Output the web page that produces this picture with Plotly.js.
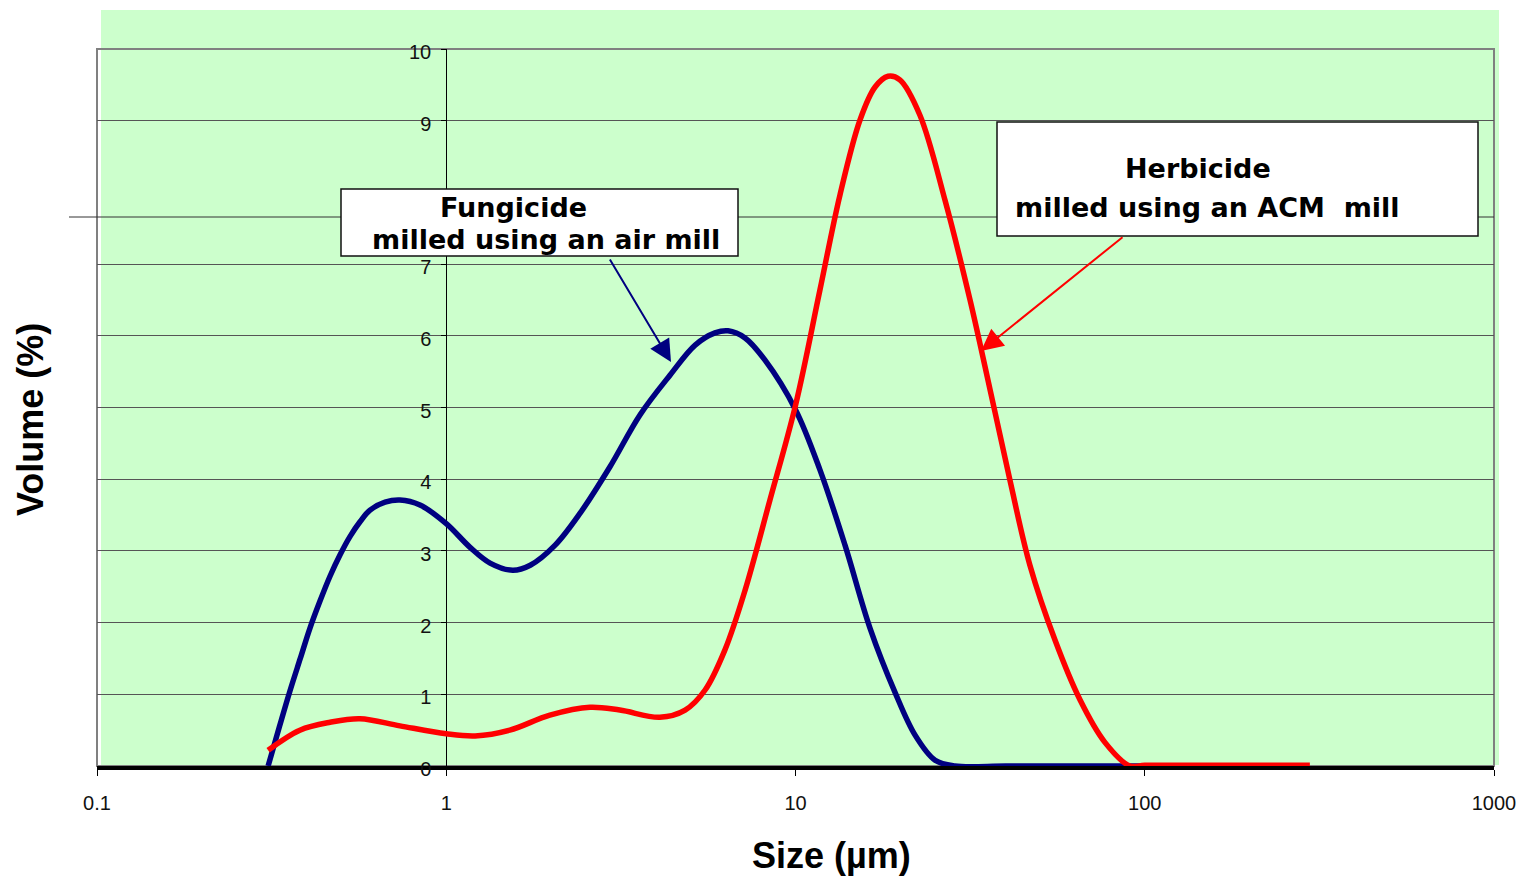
<!DOCTYPE html>
<html>
<head>
<meta charset="utf-8">
<script src="https://cdn.plot.ly/plotly-3.0.1.min.js"></script>
<style>html,body{margin:0;padding:0;background:#fff;}#chart{width:1526px;height:879px;}</style>
</head>
<body>
<div id="chart"></div>
<script>
// Particle size distributions (size in µm, volume in %)
const fungicideSize = [0.309, 0.333, 0.357, 0.382, 0.407, 0.435, 0.465, 0.497, 0.530, 0.567, 0.605, 0.668, 0.737, 0.841, 1.0, 1.17, 1.335, 1.55, 1.74, 2.05, 2.42, 2.94, 3.59, 4.37, 5.16, 5.88, 6.41, 7.17, 8.18, 10.0, 11.75, 13.86, 16.35, 19.3, 22.0, 25.1, 28.6, 40, 60, 100];
const fungicideVolume = [0, 0.55, 1.05, 1.50, 1.92, 2.30, 2.65, 2.95, 3.20, 3.41, 3.57, 3.68, 3.71, 3.64, 3.38, 3.05, 2.83, 2.73, 2.80, 3.08, 3.53, 4.17, 4.90, 5.45, 5.87, 6.04, 6.07, 5.97, 5.66, 4.97, 4.13, 3.08, 1.92, 1.02, 0.43, 0.08, 0.0, 0, 0, 0];

const herbicideSize = [0.309, 0.381, 0.465, 0.566, 0.737, 1.0, 1.21, 1.52, 1.98, 2.58, 3.14, 4.09, 4.83, 5.51, 6.28, 7.17, 8.45, 10.0, 11.75, 13.4, 15.3, 16.9, 18.4, 19.9, 22.7, 26.8, 31.6, 36.1, 41.1, 46.9, 55.3, 65.3, 76.9, 90.7, 100, 150, 297];
const herbicideVolume = [0.22, 0.50, 0.61, 0.66, 0.56, 0.45, 0.42, 0.50, 0.71, 0.82, 0.78, 0.68, 0.78, 1.06, 1.62, 2.45, 3.71, 5.03, 6.64, 7.96, 9.01, 9.47, 9.62, 9.57, 9.08, 7.89, 6.50, 5.24, 3.99, 2.80, 1.76, 0.92, 0.33, 0.0, 0.01, 0.01, 0.01];

const xTickVals = [0.1, 1, 10, 100, 1000];
const xTickText = ['0.1', '1', '10', '100', '1000'];
// the "8" tick sits behind the Fungicide label box in the original
const yTickVals = [0, 1, 2, 3, 4, 5, 6, 7, 9, 10];
const yTickText = ['0', '1', '2', '3', '4', '5', '6', '7', '9', '10'];

const xTitle = 'Size (µm)';
const yTitle = 'Volume (%)';
const fungLabel = ['Fungicide', 'milled using an air mill'];
const herbLabel = ['Herbicide', 'milled using an ACM  mill'];

const FONT = 'Liberation Sans, Arial, sans-serif';
const BOXFONT = 'DejaVu Sans, Liberation Sans, Arial, sans-serif';

const traces = [
  {x: fungicideSize, y: fungicideVolume, type: 'scatter', mode: 'lines',
   line: {color: '#000080', width: 5.5, shape: 'spline', smoothing: 1}, name: 'Fungicide', hoverinfo: 'skip'},
  {x: herbicideSize, y: herbicideVolume, type: 'scatter', mode: 'lines',
   line: {color: '#FF0000', width: 5.5, shape: 'spline', smoothing: 1}, name: 'Herbicide', hoverinfo: 'skip'}
];

// pixel helpers (plot area: x 97..1494, y 49..766)
const px = v => (v - 97) / 1397;
const py = v => (766 - v) / 717;

const layout = {
  width: 1526, height: 879,
  margin: {l: 97, r: 32, t: 49, b: 113, pad: 0},
  paper_bgcolor: '#ffffff',
  plot_bgcolor: 'rgba(0,0,0,0)',
  showlegend: false,
  font: {family: FONT, color: '#111', size: 20},
  xaxis: {
    type: 'log', range: [-1, 3],
    tickvals: xTickVals, ticktext: xTickText,
    ticks: 'outside', ticklen: 6, tickcolor: '#000', tickwidth: 1,
    showline: true, linecolor: '#000', linewidth: 4,
    showgrid: false, zeroline: false, layer: 'below traces',
    tickfont: {family: FONT, size: 20, color: '#111'},
    ticklabelstandoff: 10
  },
  yaxis: {
    range: [0, 10], anchor: 'free', position: 0.25,
    tickvals: yTickVals, ticktext: yTickText,
    ticks: 'outside', ticklen: 5, tickcolor: '#000', tickwidth: 1,
    showline: true, linecolor: '#000', linewidth: 1,
    showgrid: true, gridcolor: '#555', gridwidth: 1,
    zeroline: false, layer: 'below traces',
    tickfont: {family: FONT, size: 20, color: '#111'},
    ticklabelstandoff: 6,
    ticklabelshift: 3
  },
  shapes: [
    // green background panel
    {type: 'rect', xref: 'paper', yref: 'paper', x0: px(101), x1: px(1499), y0: py(765), y1: py(10),
     fillcolor: '#CCFFCC', line: {width: 0}, layer: 'below'},
    // frame (left/top/right)
    {type: 'rect', xref: 'paper', yref: 'paper', x0: 0, x1: 1, y0: 0, y1: 1,
     fillcolor: 'rgba(0,0,0,0)', line: {color: '#808080', width: 2}, layer: 'below'},
    // displaced gridline (drawn lower than 8 in the original, extends left of the frame)
    {type: 'line', xref: 'paper', yref: 'paper', x0: px(69), x1: 1, y0: py(217), y1: py(217),
     line: {color: '#333', width: 1}, layer: 'below'},
    // label boxes
    {type: 'rect', xref: 'paper', yref: 'paper', x0: px(341), x1: px(738), y0: py(256), y1: py(189),
     fillcolor: '#ffffff', line: {color: '#111', width: 1.5}, layer: 'above'},
    {type: 'rect', xref: 'paper', yref: 'paper', x0: px(997), x1: px(1478), y0: py(236), y1: py(122),
     fillcolor: '#ffffff', line: {color: '#111', width: 1.5}, layer: 'above'}
  ],
  annotations: [
    {xref: 'paper', yref: 'paper', x: px(513), y: py(207), text: '<b>' + fungLabel[0] + '</b>', showarrow: false,
     xanchor: 'center', yanchor: 'middle', font: {family: BOXFONT, size: 27, color: '#000'}},
    {xref: 'paper', yref: 'paper', x: px(546), y: py(239), text: '<b>' + fungLabel[1] + '</b>', showarrow: false,
     xanchor: 'center', yanchor: 'middle', font: {family: BOXFONT, size: 27, color: '#000'}},
    {xref: 'paper', yref: 'paper', x: px(1198), y: py(168), text: '<b>' + herbLabel[0] + '</b>', showarrow: false,
     xanchor: 'center', yanchor: 'middle', font: {family: BOXFONT, size: 27, color: '#000'}},
    {xref: 'paper', yref: 'paper', x: px(1207), y: py(207), text: '<b>' + herbLabel[1].replace('  ', '&nbsp; ') + '</b>', showarrow: false,
     xanchor: 'center', yanchor: 'middle', font: {family: BOXFONT, size: 27, color: '#000'}},
    // arrows
    {xref: 'paper', yref: 'paper', x: px(671), y: py(362), text: '', showarrow: true,
     axref: 'pixel', ayref: 'pixel', ax: -62, ay: -104,
     arrowhead: 2, arrowsize: 2.2, arrowwidth: 2, arrowcolor: '#000080', standoff: 0, startstandoff: 0},
    {xref: 'paper', yref: 'paper', x: px(981), y: py(351), text: '', showarrow: true,
     axref: 'pixel', ayref: 'pixel', ax: 143, ay: -115,
     arrowhead: 2, arrowsize: 2.2, arrowwidth: 2, arrowcolor: '#FF0000', standoff: 0, startstandoff: 0},
    // axis titles
    {xref: 'paper', yref: 'paper', x: px(831), y: py(855), text: '<b>' + xTitle + '</b>', showarrow: false,
     xanchor: 'center', yanchor: 'middle', font: {family: FONT, size: 36, color: '#000'}},
    {xref: 'paper', yref: 'paper', x: px(30), y: py(420), text: '<b>' + yTitle + '</b>', showarrow: false,
     textangle: -90, xanchor: 'center', yanchor: 'middle', font: {family: FONT, size: 36, color: '#000'}}
  ]
};

Plotly.newPlot('chart', traces, layout, {displayModeBar: false, staticPlot: true});
</script>
</body>
</html>
